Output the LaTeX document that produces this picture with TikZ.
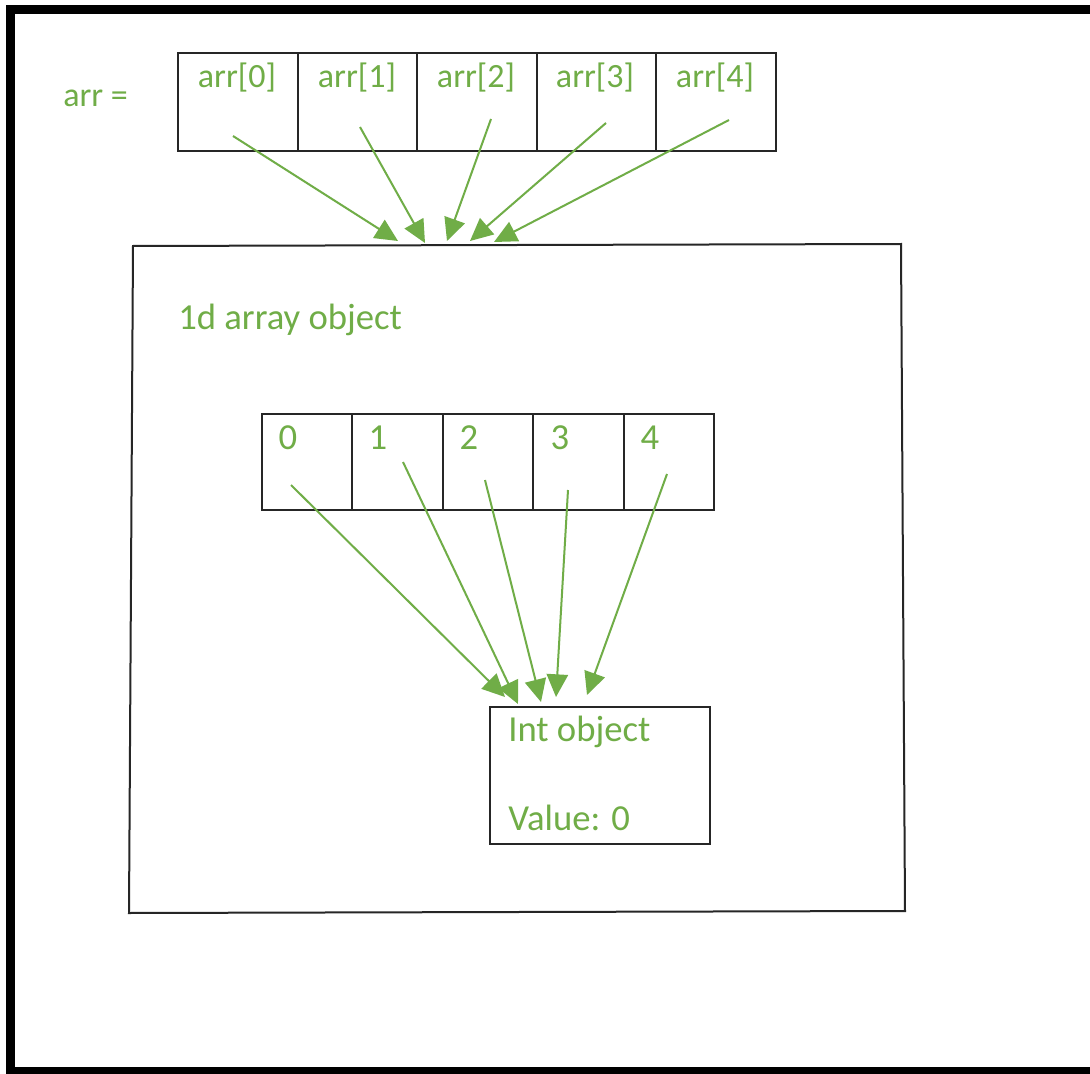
\documentclass[tikz,border=0pt]{standalone}
\usepackage{fontspec}
\setmainfont{Carlito}
\usetikzlibrary{arrows.meta}
\definecolor{grn}{HTML}{70AD47}
\definecolor{edge}{HTML}{262626}
\tikzset{
  px/.style={x=0.75pt,y=-0.75pt},
  txt/.style={text=grn,font=\fontsize{25.5}{30}\selectfont,inner sep=0pt},
  bigtxt/.style={text=grn,font=\fontsize{27.5}{32}\selectfont,inner sep=0pt},
  topcell/.style={draw=edge,line width=1.5pt,minimum width=89.7pt,minimum height=73.5pt,anchor=north west,inner sep=0pt},
  incell/.style={draw=edge,line width=1.5pt,minimum width=67.8pt,minimum height=72pt,anchor=north west,inner sep=0pt},
  ptr/.style={draw=grn,line width=1.5pt,-{Triangle[length=17pt,width=16pt]}},
  frame/.style={line width=6.8pt,draw=black}
}
\begin{document}
\begin{tikzpicture}[px]
\useasboundingbox (0,0) rectangle (1090,1074);
\fill[white] (0,0) rectangle (1090,1074);
% outer frame (left, top, bottom)
\draw[frame] (1090,9.5) -- (10.5,9.5) -- (10.5,1071.5) -- (1090,1071.5);
% arr =
\node[txt,anchor=base west] (arrlbl) at (63,107) {arr =};
% top array cells
\node[topcell] (c0) at (177,52) {};
\node[topcell] (c1) at (296.6,52) {};
\node[topcell] (c2) at (416.2,52) {};
\node[topcell] (c3) at (535.8,52) {};
\node[topcell] (c4) at (655.4,52) {};
\node[txt,anchor=base] (t0) at (237,88) {arr[0]};
\node[txt,anchor=base] (t1) at (357,88) {arr[1]};
\node[txt,anchor=base] (t2) at (476,88) {arr[2]};
\node[txt,anchor=base] (t3) at (595,88) {arr[3]};
\node[txt,anchor=base] (t4) at (715,88) {arr[4]};
% big box
\draw[edge,line width=1.5pt] (133,246) -- (901,244) -- (905,911) -- (129,913) -- cycle;
\node[bigtxt,anchor=base west] (objlbl) at (178,329) {1d array object};
% inner array
\node[incell] (d0) at (261,413) {};
\node[incell] (d1) at (351.4,413) {};
\node[incell] (d2) at (441.8,413) {};
\node[incell] (d3) at (532.2,413) {};
\node[incell] (d4) at (622.6,413) {};
\node[bigtxt,anchor=base] (n0) at (288,449) {0};
\node[bigtxt,anchor=base] (n1) at (378,449) {1};
\node[bigtxt,anchor=base] (n2) at (469,449) {2};
\node[bigtxt,anchor=base] (n3) at (560,449) {3};
\node[bigtxt,anchor=base] (n4) at (650,449) {4};
% int object
\node[draw=edge,line width=1.5pt,minimum width=165pt,minimum height=102.75pt,anchor=north west,inner sep=0pt] (intobj) at (489,706) {};
\node[bigtxt,anchor=base west] (intlbl) at (508,741) {Int object};
\node[bigtxt,anchor=base west] (vallbl) at (508,830) {Value: 0};
% arrow coordinates, top
\coordinate (s0) at (233,136); \coordinate (e0) at (398,241);
\coordinate (s1) at (360,127); \coordinate (e1) at (425,243);
\coordinate (s2) at (491,119); \coordinate (e2) at (447,241);
\coordinate (s3) at (606,123); \coordinate (e3) at (470,241);
\coordinate (s4) at (729,120); \coordinate (e4) at (494,242);
\draw[ptr] (s0) -- (e0);
\draw[ptr] (s1) -- (e1);
\draw[ptr] (s2) -- (e2);
\draw[ptr] (s3) -- (e3);
\draw[ptr] (s4) -- (e4);
% arrow coordinates, inner
\coordinate (u0) at (291,485); \coordinate (v0) at (505,697);
\coordinate (u1) at (403,462); \coordinate (v1) at (518,704);
\coordinate (u2) at (485,480); \coordinate (v2) at (541,702);
\coordinate (u3) at (568,490); \coordinate (v3) at (556,697);
\coordinate (u4) at (667,474); \coordinate (v4) at (587,695);
\draw[ptr] (u0) -- (v0);
\draw[ptr] (u1) -- (v1);
\draw[ptr] (u2) -- (v2);
\draw[ptr] (u3) -- (v3);
\draw[ptr] (u4) -- (v4);
\end{tikzpicture}
\end{document}
